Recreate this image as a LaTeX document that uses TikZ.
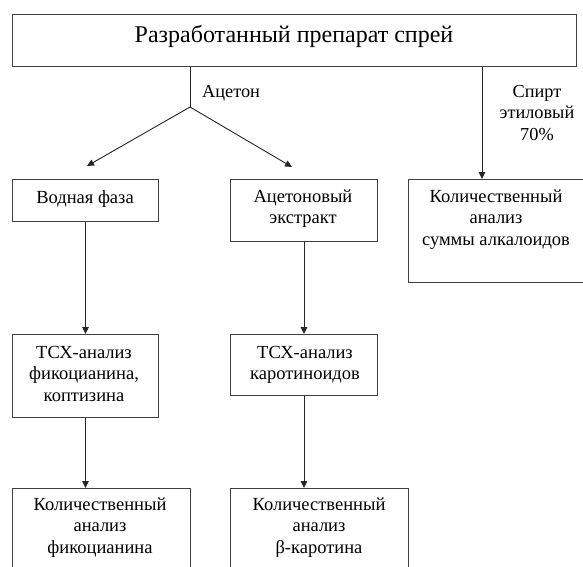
\documentclass[tikz,border=0pt]{standalone}
\usepackage{fontspec}
\setmainfont{Liberation Serif}
\usetikzlibrary{arrows.meta}
\begin{document}
\begin{tikzpicture}[x=1pt,y=-1pt,
  box/.style={draw=black!75, line width=1pt, inner sep=0pt, anchor=north west},
  txt/.style={inner sep=0pt, anchor=base, font=\fontsize{18.5}{21.5}\selectfont},
  small/.style={inner sep=0pt, anchor=base, font=\fontsize{18.3}{21.5}\selectfont},
  conn/.style={draw=black!85, line width=0.9pt},
  arr/.style={conn, -{Triangle[width=6.5pt,length=7pt]}}]
\useasboundingbox (0,0) rectangle (583,566);
\clip (0,0) rectangle (583,566);
\setlength{\tabcolsep}{0pt}
% boxes
\node[box, minimum width=564.5pt, minimum height=52pt] (top) at (11.5,14) {};
\node[box, minimum width=146pt, minimum height=42pt] (aq) at (12,179) {};
\node[box, minimum width=147pt, minimum height=62pt] (ac) at (230,179) {};
\node[box, minimum width=180pt, minimum height=103pt] (alk) at (408,179) {};
\node[box, minimum width=146pt, minimum height=83pt] (tcx1) at (12,334) {};
\node[box, minimum width=147pt, minimum height=61pt] (tcx2) at (230,334) {};
\node[box, minimum width=178pt, minimum height=100pt] (q1) at (12,488) {};
\node[box, minimum width=178pt, minimum height=100pt] (q2) at (230,488) {};
% texts
\node[inner sep=0pt, anchor=base, font=\fontsize{24}{28}\selectfont] (ttop) at (294,42) {Разработанный препарат спрей};
\node[small, anchor=base west] (tacet) at (202,97) {Ацетон};
\node[small] (tspirt) at (537,97) {\begin{tabular}[t]{c}Спирт\\ этиловый\\ 70\%\end{tabular}};
\node[txt] (talk) at (496,202) {\begin{tabular}[t]{c}Количественный\\ анализ\\ суммы алкалоидов\end{tabular}};
\node[txt] (taq) at (85,203) {Водная фаза};
\node[txt] (tac) at (303,202) {\begin{tabular}[t]{c}Ацетоновый\\ экстракт\end{tabular}};
\node[txt] (ttcx1) at (84,358) {\begin{tabular}[t]{c}ТСХ-анализ\\ фикоцианина,\\ коптизина\end{tabular}};
\node[txt] (ttcx2) at (305,358) {\begin{tabular}[t]{c}ТСХ-анализ\\ каротиноидов\end{tabular}};
\node[txt] (tq1) at (100,510) {\begin{tabular}[t]{c}Количественный\\ анализ\\ фикоцианина\end{tabular}};
\node[txt] (tq2) at (319,510) {\begin{tabular}[t]{c}Количественный\\ анализ\\ β-каротина\end{tabular}};
% connectors
\coordinate (split) at (190,107);
\coordinate (tipL) at (87,166);
\coordinate (tipR) at (292,167);
\coordinate (sp2) at (482,120);
\draw[conn] (top.south -| split) -- (split);
\draw[arr] (split) -- (tipL);
\draw[arr] (split) -- (tipR);
\draw[arr] (top.south -| sp2) -- (alk.north -| sp2);
\draw[arr] (aq.south) -- (tcx1.north);
\draw[arr] (ac.south) -- (tcx2.north);
\draw[arr] (tcx1.south) -- (tcx1.south |- q1.north);
\draw[arr] (tcx2.south) -- (tcx2.south |- q2.north);
\end{tikzpicture}
\end{document}
